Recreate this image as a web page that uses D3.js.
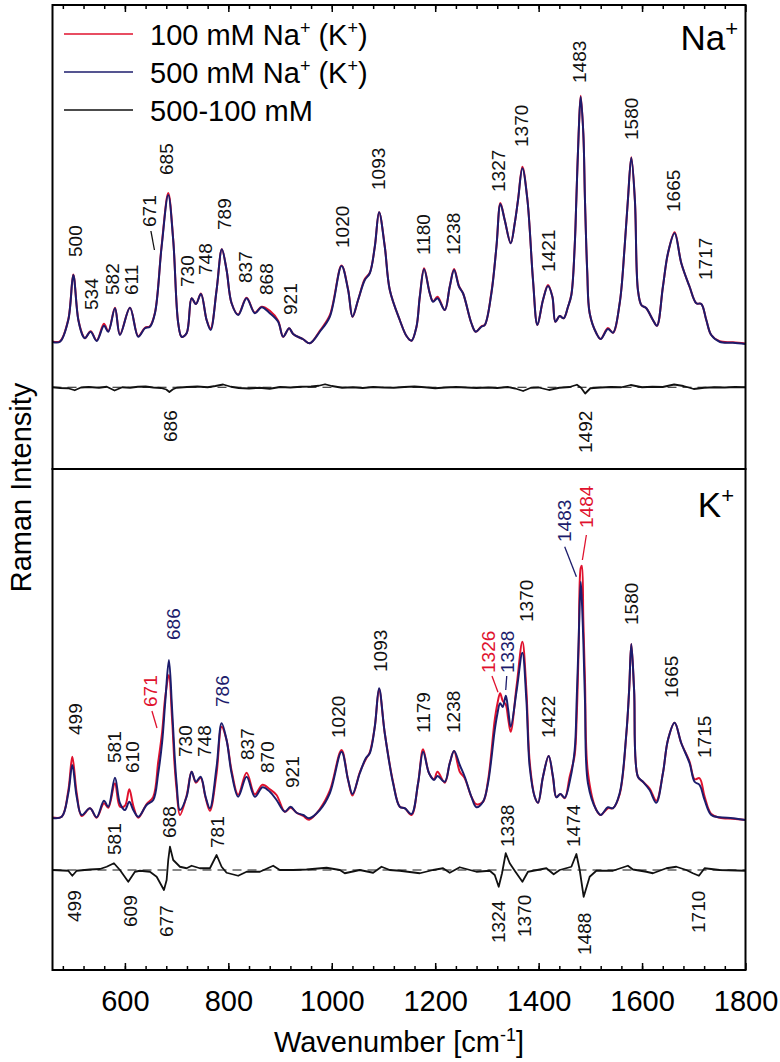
<!DOCTYPE html>
<html><head><meta charset="utf-8">
<script src="https://cdn.jsdelivr.net/npm/d3@7"></script>
<style>body{margin:0;background:#fff} svg text{font-family:"Liberation Sans",Arial,sans-serif}</style>
</head><body><svg id="c" width="780" height="1062"></svg>
<script>
// ---------- data ----------
const xDomain = [460, 1800];
const xTicks = [600, 800, 1000, 1200, 1400, 1600, 1800];
const xMinorTicks = d3.range(480, 1800, 40);
const naYDomain = [-50.8, 134.8];
const kYDomain = [-61.2, 139.2];
const naZero = -18.1;
const kZero = -21.2;

const legendLabels = ["100 mM Na^+^ (K^+^)", "500 mM Na^+^ (K^+^)", "500-100 mM"];
const panelTitles = ["Na^+^", "K^+^"];

// Na+ panel spectra
const naWn = [460,474.5,490.5,500.2,509.9,519.5,522.8,533.8,545.4,559.5,
567.8,580.8,590.4,609.8,625.8,638.8,648.4,658.1,671,683.8,
693.4,703.1,709.7,719.3,729,737.3,747,758,765.7,777.3,
787.5,796.6,806.3,819,835.3,851.3,864.3,880.3,896.3,906,
917.6,925.3,944.7,957.6,976.9,996.2,1018.9,1031.6,1040.1,1050.9,
1063.9,1073.5,1083.2,1091.5,1102.5,1112.2,1131.5,1144.5,1154.1,1163.8,
1170.2,1178.5,1189.5,1195.9,1204.4,1218.5,1228.1,1236.5,1246.1,1253.8,
1270,1278.4,1289.4,1295.8,1308.7,1318.4,1326.1,1334.4,1346,1353.8,
1360.2,1368.6,1378.3,1389.1,1397.6,1408.4,1418.1,1426.6,1432.4,1440.7,
1448.4,1456.8,1463.3,1469.7,1472.9,1477.4,1481.3,1486.4,1489.6,1494,
1498.7,1511.6,1520,1534,1543.7,1556.7,1566.3,1572.6,1579.2,1586.1,
1592,1598.6,1608.2,1621,1628.7,1640.3,1650,1662.9,1675.9,1691.9,
1704.9,1714.5,1724.2,1733.8,1749.9,1775.6,1800];
const naBlue = [0,0.1,8.8,26.8,8.8,2.1,1.5,4.1,0.4,6.5,
4.1,13.5,2.8,13.7,2.1,5.5,6.1,11.5,38.1,58.8,
40.8,7.5,2.1,3.5,17.5,15.2,19.2,8.8,4.8,20.8,
37.1,28.8,15.5,10.8,17.5,11.5,13.9,11.5,8.1,2.1,
5.5,3.2,1.1,-0.5,4.1,10.1,30.4,20.8,10.1,16.8,
24.8,27.5,38.1,51.9,38.1,20.8,8.8,2.4,0.5,6.1,
18.1,29.1,19.5,16.1,17.5,12.8,22.1,28.8,22.1,19.5,
7.5,4.1,6.1,6.8,19.5,38.1,55.2,48.8,39.5,47.5,
56.8,69.5,56.8,24.8,6.8,16.8,22.4,18.1,8.1,10.4,
9.5,14.1,18.8,38.1,56.8,83.5,98.1,83.5,56.8,28.0,
11.5,3.5,1.2,5.2,3.7,15.5,38.1,56.8,73.7,56.8,
20.8,14.8,13.5,8.8,6.5,22.1,35.5,43.5,31.5,22.1,
15.5,15.2,8.8,2.8,0.1,-0.3,-0.8];
const naRed = [0.2,0.3,9.0,27.0,9.0,2.3,1.5,4.3,0.6,7.3,
4.3,13.7,3.0,13.7,2.3,5.7,6.3,11.7,38.5,59.6,
41.0,7.5,2.1,3.5,17.5,15.2,19.4,8.8,5.4,20.8,
37.1,28.8,15.5,11.0,17.7,11.7,14.1,12.5,8.5,2.1,
5.5,3.2,1.1,-0.5,4.5,10.7,30.6,21.0,10.1,16.8,
25.2,27.7,38.1,51.9,38.3,20.8,8.8,2.4,0.5,6.1,
18.1,29.5,19.5,16.3,18.1,12.8,22.1,29.2,22.3,19.5,
7.5,4.1,6.3,6.8,19.9,38.1,55.6,48.8,39.5,47.5,
57.0,70.1,57.0,24.8,6.8,16.8,22.8,18.1,8.1,10.4,
9.5,14.1,19.0,38.3,57.0,83.7,98.5,83.5,56.8,28.0,
11.5,3.5,1.2,5.6,3.7,15.5,38.1,56.8,73.9,56.8,
20.8,14.8,13.5,8.8,6.5,22.1,35.3,43.9,31.5,22.1,
15.5,15.2,8.8,2.8,0.3,-0.1,-0.6];
const naDiffWn = [460,475,490,503,515,530,550,565,580,595,610,625,640,655,670,680,686,693,700,720,740,760,775,790,805,820,840,860,880,900,920,940,960,975,987,1000,1020,1040,1060,1080,1100,1120,1140,1160,1180,1200,1220,1240,1260,1280,1300,1320,1340,1355,1370,1385,1400,1420,1440,1460,1474,1482,1490,1500,1520,1540,1560,1578,1600,1620,1640,1662,1680,1700,1720,1740,1760,1780,1800];
const naDiff = [-18.1,-18.4,-18.5,-19.3,-18.2,-18.0,-18.3,-17.9,-19.4,-18.1,-18.3,-17.9,-17.8,-18.2,-18.4,-19.0,-20.0,-18.9,-18.3,-18.0,-17.8,-18.1,-17.6,-17.0,-17.9,-18.4,-18.6,-18.3,-18.7,-18.0,-18.2,-17.9,-17.8,-17.5,-16.9,-17.6,-18.3,-18.1,-18.4,-18.0,-18.2,-18.3,-18.0,-17.8,-18.1,-18.5,-18.2,-18.0,-18.2,-18.4,-18.2,-18.4,-18.0,-18.6,-19.6,-18.3,-18.2,-19.2,-18.3,-18.0,-17.1,-18.3,-20.6,-18.5,-18.2,-18.0,-18.1,-17.2,-18.1,-17.9,-18.0,-17.0,-17.6,-18.8,-18.3,-18.1,-18.2,-18.0,-18.1];

// K+ panel spectra
const kWn = [460,477.8,490.5,498.3,506.8,516.4,532.5,545.4,559.5,567.8,
580.8,590.4,600.1,608.5,616.2,625.8,642,654.8,664.4,672,
678,685.1,691,696,700,706.4,719.3,729,737.3,746.4,
756,764.4,777.3,787,796.6,806.3,819,835.3,851.3,866.2,
880.3,893.2,909.3,920.3,932,944.7,956.3,976.9,996.2,1018.9,
1031.6,1040.1,1054.2,1065.8,1073.5,1083.2,1091.5,1102.5,1118.6,1131.5,
1141.2,1154.1,1166.9,1176.6,1188.1,1197.8,1204.4,1218.5,1228.1,1236.5,
1247.5,1257.1,1270,1279.7,1292.5,1302.1,1315.1,1320,1325.5,1330.5,1336.5,1341,1346,
1357.6,1368.6,1376.3,1382.7,1392.4,1398.8,1408.4,1419.4,1427.8,1434.3,
1442.1,1450.4,1460,1469.7,1473.6,1477.4,1481.3,1483.5,1486.4,1489.6,
1495.4,1511.6,1520,1534,1543.7,1556.7,1569.6,1575,1579.2,1584.6,
1592,1601.7,1614.6,1627.5,1640.3,1650,1662.9,1675.9,1691.9,1701.6,
1711.2,1720.9,1733.8,1749.9,1775.6,1800];
const kBlue = [-0.4,0.1,9.5,20.8,8.1,0.8,3.5,-0.1,6.5,4.1,
15.7,5.5,2.8,6.1,2.8,0.1,4.8,6.8,17.5,30.0,
46.0,62.8,44.0,25.0,13.5,2.8,8.1,18.1,14.1,16.1,
8.1,3.5,20.1,37.5,30.8,17.5,8.1,16.1,8.1,11.9,
10.1,6.8,2.1,4.1,1.7,0.8,-0.5,2.8,9.5,26.1,
14.8,9.2,17.5,23.5,25.5,36.1,51.5,33.5,13.5,4.1,
3.5,1.2,13.5,26.1,17.5,14.8,16.4,14.1,21.5,26.4,
20.8,16.1,8.1,3.9,6.1,13.5,34.8,41.0,45.5,44.0,48.5,43.0,36.1,
50.8,65.7,46.8,20.1,8.1,5.7,16.1,24.4,16.1,7.9,
9.2,7.7,14.1,26.8,46.8,70.8,94.1,87.0,70.8,46.8,
13.5,2.8,0.8,3.9,3.5,9.5,33.5,50.8,69.2,50.8,
16.1,14.1,10.8,5.7,17.5,30.8,37.7,29.5,21.5,14.1,
12.8,6.8,0.8,-0.1,-0.5,-1.2];
const kRed = [-0.2,0.1,10.5,24.1,9.5,0.4,3.5,-0.3,5.5,3.7,
13.5,4.1,4.5,11.1,4.5,-0.3,5.2,8.0,22.0,34.0,
48.0,56.8,40.0,21.0,11.0,0.8,8.5,18.1,13.7,15.7,
7.7,2.5,17.5,36.1,30.8,18.5,8.9,17.7,9.1,12.9,
11.1,8.8,2.1,3.7,1.7,0.4,-1.1,3.2,10.5,26.8,
14.8,8.6,17.9,23.1,25.9,36.1,51.1,33.5,13.9,4.1,
3.5,0.8,13.5,27.1,17.5,15.2,18.1,13.7,21.5,26.4,
18.1,15.5,8.1,5.1,6.1,14.5,38.8,45.0,49.5,46.5,45.0,39.5,34.1,
52.8,70.1,50.8,22.1,8.1,5.7,16.1,24.4,15.7,7.9,
9.2,7.5,16.1,24.8,40.0,68.0,99.5,100.5,78.8,54.8,
17.5,2.8,0.8,3.5,3.5,9.1,33.1,50.8,69.2,50.8,
16.1,14.1,11.4,6.5,17.5,30.8,37.7,29.5,22.1,15.1,
15.5,8.2,1.2,-0.3,-0.7,-1.2];
const kDiffWn = [460,490.5,498.3,506.8,532.5,551.8,564.7,578.8,590.4,606.5,619.4,629.1,648.4,661.4,675.5,680.7,683.8,687.1,693.4,706.4,719.3,729,745,764.4,777.3,787,796.6,819,835.3,861,886.7,899.6,925.3,951.2,990,1015.6,1025.2,1054.2,1080,1096.2,1112.2,1131.5,1170.2,1195.9,1215.2,1228.1,1247.5,1279.7,1305.4,1315.1,1322.8,1329.2,1336.4,1344.1,1353.8,1368.6,1379.4,1415,1429.1,1440.7,1463.3,1473,1479.4,1487.1,1498.7,1511.6,1543.7,1572.6,1582.3,1608.2,1621,1646.9,1666.2,1685.5,1698.3,1709.9,1720.9,1749.9,1800];
const kDiff = [-21.2,-21.5,-23.5,-21.5,-21.0,-20.8,-19.9,-18.5,-21.2,-25.9,-21.9,-21.5,-21.9,-23.9,-29.2,-25.2,-17.2,-11.9,-17.2,-19.9,-20.5,-19.5,-20.5,-20.5,-15.2,-19.9,-22.3,-23.5,-21.9,-21.9,-19.5,-21.2,-21.2,-21.0,-20.3,-21.2,-22.5,-21.2,-22.3,-19.9,-21.2,-21.5,-22.5,-21.2,-20.5,-22.3,-20.1,-21.9,-21.5,-23.2,-27.9,-22.5,-14.5,-18.5,-21.5,-25.9,-21.9,-20.5,-22.9,-21.2,-19.9,-14.8,-21.2,-31.9,-23.9,-21.5,-21.5,-19.5,-21.0,-21.9,-22.5,-20.5,-19.9,-21.2,-22.5,-23.5,-20.5,-21.2,-21.5];

// peak annotations (label text, anchor wavenumber, anchor intensity, series)
const naLabelText = ["500","534","582","611","671","685","730","748","789","837","868","921","1020","1093","1180","1238","1327","1370","1421","1483","1580","1665","1717","686","1492"];
const naLabelWn = [503.5,535.7,575.6,611.7,647,680.7,719.9,756,792,833.3,872.7,920.3,1020,1089.6,1177.9,1235.8,1321.4,1366.7,1418,1479.3,1579.2,1661,1722.2,688.4,1490.3];
const naLabelV = [34.0,12.8,18.8,18.8,46.0,66.8,22.0,26.8,44.8,23.6,18.8,10.8,37.6,60.8,34.8,34.8,60.0,78.0,28.0,103.6,80.8,52.0,24.8,-40.0,-44.4];
const naLabelSeries = Array(25).fill("diff");
const naLeaders = [{s:"diff", a:[650.3,44.4], b:[657.1,36.8]}];

const kLabelText = ["499","581","610","671","686","730","748","786","837","870","921","1020","1093","1179","1238","1326","1338","1370","1422","1483","1484","1580","1665","1715","581","688","781","1338","1474","499","609","677","1324","1370","1488","1710"];
const kLabelWn = [503.5,578.8,614.2,648.4,692.9,717.4,754.1,788.1,836.4,875.1,923.4,1013.6,1094.2,1177.9,1235.8,1302.1,1338.9,1376.3,1418.1,1450.4,1492.3,1579.2,1656.5,1720.9,578.8,685.7,778.5,1338.9,1467.8,501.5,611.1,679.3,1322.8,1373.1,1489,1708];
const kLabelV = [32.8,21.6,17.6,44.0,70.8,24.0,24.0,44.0,22.8,17.6,11.6,31.6,58.0,33.6,33.6,57.6,57.6,78.0,31.6,110.0,115.6,76.8,47.6,23.6,-15.2,-8.4,-12.4,-12.0,-12.0,-42.0,-44.0,-48.0,-50.4,-48.0,-55.2,-46.4];
const kLabelSeries = ["diff","diff","diff","red","blue","diff","diff","blue","diff","diff","diff","diff","diff","diff","diff","red","blue","diff","diff","blue","red","diff","diff","diff","diff","diff","diff","diff","diff","diff","diff","diff","diff","diff","diff","diff"];
const kLeaders = [
  {s:"red", a:[652.3,42.4], b:[662,35.6]},
  {s:"red", a:[1309.8,56.4], b:[1321.4,49.9]},
  {s:"blue", a:[1338.3,56.4], b:[1336.4,50.8]},
  {s:"blue", a:[1450.4,108.1], b:[1473,96.1]},
  {s:"red", a:[1492.3,112.8], b:[1484.6,102.8]}
];

// ---------- drawing ----------
const colors = {red:"#e0122e", blue:"#1c1c6c", diff:"#111111"};
const svg = d3.select("#c");
const pLeft = 52.5, pRight = 745.5, pTop = 5, pMid = 469, pBottom = 970;
const x = d3.scaleLinear().domain(xDomain).range([pLeft, pRight]);
const yNa = d3.scaleLinear().domain(naYDomain).range([pMid, pTop]);
const yK = d3.scaleLinear().domain(kYDomain).range([pBottom, pMid]);

const defs = svg.append("defs");
defs.append("clipPath").attr("id","clipNa").append("rect").attr("x",pLeft).attr("y",pTop).attr("width",pRight-pLeft).attr("height",pMid-pTop);
defs.append("clipPath").attr("id","clipK").append("rect").attr("x",pLeft).attr("y",pMid).attr("width",pRight-pLeft).attr("height",pBottom-pMid);

function rich(sel, str, supSize, shift){
  str.split("^").forEach((p,i)=>{
    if(!p) return;
    const sp = sel.append("tspan").text(p);
    if(i%2===1){ sp.attr("font-size",supSize).attr("dy",-shift); }
    else if(i>0){ sp.attr("dy",shift); }
  });
}

function drawPanel(clipId, y, wn, red, blue, dwn, diff, zero){
  const g = svg.append("g").attr("clip-path",`url(#${clipId})`);
  g.append("line").attr("x1",x(xDomain[0])).attr("x2",x(xDomain[1]))
    .attr("y1",y(zero)).attr("y2",y(zero))
    .attr("stroke","#111").attr("stroke-width",1).attr("stroke-dasharray","9,6");
  const smooth = d3.line().x(d=>x(d[0])).y(d=>y(d[1])).curve(d3.curveCatmullRom.alpha(0.5));
  const lin = d3.line().x(d=>x(d[0])).y(d=>y(d[1]));
  g.append("path").datum(wn.map((w,i)=>[w,red[i]])).attr("d",smooth)
    .attr("fill","none").attr("stroke",colors.red).attr("stroke-width",2).attr("stroke-linejoin","round");
  g.append("path").datum(wn.map((w,i)=>[w,blue[i]])).attr("d",smooth)
    .attr("fill","none").attr("stroke",colors.blue).attr("stroke-width",2).attr("stroke-linejoin","round");
  g.append("path").datum(dwn.map((w,i)=>[w,diff[i]])).attr("d",lin)
    .attr("fill","none").attr("stroke",colors.diff).attr("stroke-width",1.8).attr("stroke-linejoin","round");
}

function drawLabels(y, texts, wns, vs, series, leaders){
  const g = svg.append("g");
  texts.forEach((t,i)=>{
    g.append("text")
      .attr("transform",`translate(${x(wns[i])},${y(vs[i])}) rotate(-90)`)
      .attr("dy","0.35em").attr("text-anchor","start")
      .attr("font-size",19).attr("fill",colors[series[i]]).text(t);
  });
  leaders.forEach(l=>{
    g.append("line").attr("x1",x(l.a[0])).attr("y1",y(l.a[1]))
      .attr("x2",x(l.b[0])).attr("y2",y(l.b[1]))
      .attr("stroke",colors[l.s]).attr("stroke-width",1.3);
  });
}

drawPanel("clipNa", yNa, naWn, naRed, naBlue, naDiffWn, naDiff, naZero);
drawPanel("clipK", yK, kWn, kRed, kBlue, kDiffWn, kDiff, kZero);
drawLabels(yNa, naLabelText, naLabelWn, naLabelV, naLabelSeries, naLeaders);
drawLabels(yK, kLabelText, kLabelWn, kLabelV, kLabelSeries, kLeaders);

// frames
svg.append("rect").attr("x",pLeft).attr("y",pTop).attr("width",pRight-pLeft).attr("height",pMid-pTop)
  .attr("fill","none").attr("stroke","#000").attr("stroke-width",2);
svg.append("rect").attr("x",pLeft).attr("y",pMid).attr("width",pRight-pLeft).attr("height",pBottom-pMid)
  .attr("fill","none").attr("stroke","#000").attr("stroke-width",2);

// axes
function styleAxis(g){
  g.select(".domain").remove();
  g.selectAll(".tick line").attr("stroke","#000").attr("stroke-width",1.5);
  g.selectAll("text").attr("font-size",29).attr("font-family","'Liberation Sans',Arial,sans-serif").attr("fill","#000");
}
svg.append("g").attr("transform",`translate(0,${pBottom})`)
  .call(d3.axisBottom(x).tickValues(xMinorTicks).tickSizeInner(-4).tickSizeOuter(0).tickFormat(""))
  .call(styleAxis);
svg.append("g").attr("transform",`translate(0,${pBottom})`)
  .call(d3.axisBottom(x).tickValues(xTicks).tickSizeInner(-7).tickSizeOuter(0).tickPadding(20).tickFormat(d3.format("d")))
  .call(styleAxis);
svg.append("g").attr("transform",`translate(0,${pTop})`)
  .call(d3.axisTop(x).tickValues(xMinorTicks).tickSizeInner(-4).tickSizeOuter(0).tickFormat(""))
  .call(styleAxis);
svg.append("g").attr("transform",`translate(0,${pTop})`)
  .call(d3.axisTop(x).tickValues(xTicks).tickSizeInner(-7).tickSizeOuter(0).tickFormat(""))
  .call(styleAxis);

// axis titles
const xt = svg.append("text").attr("x",(pLeft+pRight)/2).attr("y",1052)
  .attr("text-anchor","middle").attr("font-size",29).attr("fill","#000");
rich(xt, "Wavenumber [cm^-1^]", 18, 11);
svg.append("text").attr("transform",`translate(31,${(pTop+pBottom)/2}) rotate(-90)`)
  .attr("text-anchor","middle").attr("font-size",29).attr("fill","#000").text("Raman Intensity");

// panel titles
const t1 = svg.append("text").attr("x",738).attr("y",50).attr("text-anchor","end").attr("font-size",35).attr("fill","#000");
rich(t1, panelTitles[0], 22, 14);
const t2 = svg.append("text").attr("x",734).attr("y",517).attr("text-anchor","end").attr("font-size",35).attr("fill","#000");
rich(t2, panelTitles[1], 22, 14);

// legend
const legColors = [colors.red, colors.blue, colors.diff];
legendLabels.forEach((lab,i)=>{
  const ly = 34 + i*38;
  svg.append("line").attr("x1",64).attr("x2",133).attr("y1",ly).attr("y2",ly)
    .attr("stroke",legColors[i]).attr("stroke-width",1.6);
  const t = svg.append("text").attr("x",150).attr("y",ly+11).attr("font-size",29).attr("fill","#000");
  rich(t, lab, 18, 11);
});
</script></body></html>
